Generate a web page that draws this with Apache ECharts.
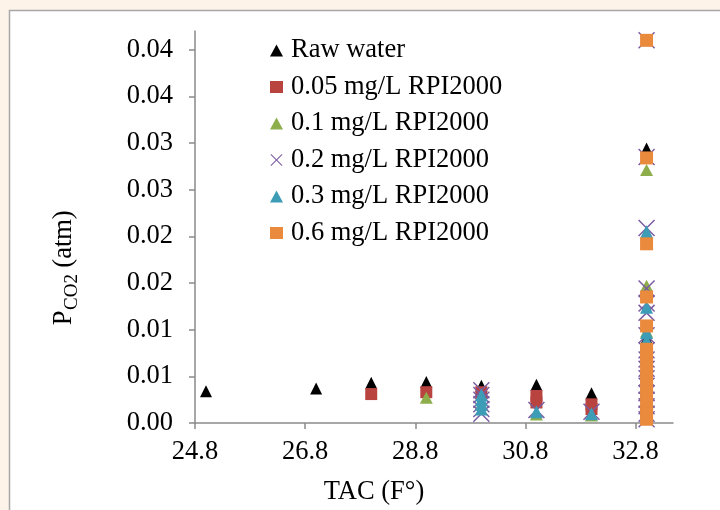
<!DOCTYPE html>
<html>
<head>
<meta charset="utf-8">
<script src="https://cdn.jsdelivr.net/npm/echarts@6/dist/echarts.min.js"></script>
<style>
html,body{margin:0;padding:0;background:#fdf3e9;}
#chart{width:720px;height:510px;}
</style>
</head>
<body>
<div id="chart"></div>
<script>
// ---- Data (TAC in F°, PCO2 in atm) ----
const seriesNames = ['Raw water', '0.05 mg/L RPI2000', '0.1 mg/L RPI2000', '0.2 mg/L RPI2000', '0.3 mg/L RPI2000', '0.6 mg/L RPI2000'];

const rawWater = [[25,0.0034],[27,0.0037],[28,0.0043],[29,0.0044],[30,0.0040],[31,0.0041],[32,0.0032],
  [33,0.0294],[33,0.0091],[33,0.0060],[33,0.0040],[33,0.0020]];
const rpi005 = [[28,0.0031],[29,0.0033],[30,0.0033],[31,0.0029],[31,0.0022],[32,0.0020],[32,0.0015],
  [33,0.0070],[33,0.0050],[33,0.0030],[33,0.0010]];
const rpi01 = [[29,0.0027],[30,0.0020],[31,0.0009],[32,0.0008],
  [33,0.0271],[33,0.0147],[33,0.0098],[33,0.0060],[33,0.0030]];
const rpi02 = [[30,0.0035],[30,0.0030],[30,0.0025],[30,0.0020],[30,0.0015],[30,0.0010],[31,0.0014],[32,0.0012],
  [33,0.0410],[33,0.0285],[33,0.0209],[33,0.0144],[33,0.0128],[33,0.0118],[33,0.0094],[33,0.0078],
  [33,0.0068],[33,0.0058],[33,0.0048],[33,0.0040],[33,0.0032],[33,0.0025],[33,0.0018],[33,0.0010],[33,0.0004]];
const rpi03 = [[30,0.0030],[30,0.0025],[30,0.0020],[30,0.0015],[31,0.0012],[32,0.0010],
  [33,0.0205],[33,0.0124],[33,0.0097],[33,0.0089],[33,0.0055],[33,0.0030]];
const rpi06 = [[33,0.0410],[33,0.0284],[33,0.0192],[33,0.0135],[33,0.0104],[33,0.0079],[33,0.0074],
  [33,0.0062],[33,0.0050],[33,0.0040],[33,0.0030],[33,0.0020],[33,0.0010],[33,0.0004]];

const xTickValues = [24.8, 26.8, 28.8, 30.8, 32.8];
const xTickLabels = ['24.8', '26.8', '28.8', '30.8', '32.8'];
const yTickValues = [0, 0.005, 0.01, 0.015, 0.02, 0.025, 0.03, 0.035, 0.04];
const yTickLabels = ['0.00', '0.01', '0.01', '0.02', '0.02', '0.03', '0.03', '0.04', '0.04'];

// ---- Styling ----
const FONT = '"Liberation Serif", "Times New Roman", serif';
const FS = 26.5;
const AXIS_COLOR = '#8a8a8a';
const XPATH = 'path://M0,0.6 L0.6,0 L5,4.4 L9.4,0 L10,0.6 L5.6,5 L10,9.4 L9.4,10 L5,5.6 L0.6,10 L0,9.4 L4.4,5 Z';

const styles = [
  {data: rawWater, symbol: 'triangle', size: [12, 12], color: '#000000'},
  {data: rpi005, symbol: 'rect', size: 12, color: '#b8433f'},
  {data: rpi01, symbol: 'triangle', size: [13, 12], color: '#8eae4c'},
  {data: rpi02, symbol: XPATH, size: 17, color: '#7a5ba0'},
  {data: rpi03, symbol: 'triangle', size: [13, 13], color: '#3d9cb6'},
  {data: rpi06, symbol: 'rect', size: 13, color: '#e98a3d'}
];

function lookup(values, labels, v) {
  let best = 0, bd = Infinity;
  values.forEach((t, i) => { const d = Math.abs(t - v); if (d < bd) { bd = d; best = i; } });
  return labels[best];
}

function rotText(text, x, y, size) {
  return {type: 'text', z: 5, x: x, y: y, rotation: Math.PI / 2,
    style: {text: text, fontFamily: FONT, fontSize: size, fill: '#000', align: 'center', verticalAlign: 'middle'}};
}

const chart = echarts.init(document.getElementById('chart'), null, {renderer: 'canvas'});

const option = {
  backgroundColor: '#fdf3e9',
  animation: false,
  graphic: [
    {type: 'rect', z: 0, shape: {x: 9.5, y: 10.5, width: 800, height: 600},
      style: {fill: '#ffffff', stroke: '#a8a8a8', lineWidth: 1.5}},
    rotText('P', 64, 318, FS),
    rotText('CO2', 72, 292, 19),
    rotText('(atm)', 64, 239, FS),
    {type: 'text', z: 5, x: 374, y: 492,
      style: {text: 'TAC (F°)', fontFamily: FONT, fontSize: FS, fill: '#000', align: 'center', verticalAlign: 'middle'}}
  ],
  grid: {left: 195, right: 47, top: 31, bottom: 87},
  legend: {
    orient: 'vertical', left: 270, top: 37, itemGap: 9.5, padding: 0,
    itemWidth: 13, itemHeight: 12,
    textStyle: {fontFamily: FONT, fontSize: FS, color: '#000', lineHeight: 26, padding: [0, 0, 0, 3]},
    data: seriesNames.map((n) => ({name: n}))
  },
  xAxis: {
    type: 'value', min: 24.8, max: 33.48,
    splitLine: {show: false},
    axisLine: {onZero: false, lineStyle: {color: AXIS_COLOR, width: 1.5}},
    axisTick: {show: true, length: 6, inside: false, customValues: xTickValues, lineStyle: {color: AXIS_COLOR, width: 1.5}},
    axisLabel: {customValues: xTickValues, margin: 16, fontFamily: FONT, fontSize: FS, color: '#000',
      formatter: (v) => lookup(xTickValues, xTickLabels, v)}
  },
  yAxis: {
    type: 'value', min: 0, max: 0.042,
    splitLine: {show: false},
    axisLine: {show: true, onZero: false, lineStyle: {color: AXIS_COLOR, width: 1.5}},
    axisTick: {show: true, length: 6, inside: false, customValues: yTickValues, lineStyle: {color: AXIS_COLOR, width: 1.5}},
    axisLabel: {customValues: yTickValues, margin: 22, fontFamily: FONT, fontSize: FS, color: '#000',
      formatter: (v) => lookup(yTickValues, yTickLabels, v)}
  },
  series: styles.map((s, i) => ({
    name: seriesNames[i],
    type: 'scatter',
    data: s.data,
    symbol: s.symbol,
    symbolSize: s.size,
    itemStyle: {color: s.color, opacity: 1},
    emphasis: {disabled: true},
    z: 2 + i * 0.01
  }))
};

chart.setOption(option);
</script>
</body>
</html>
